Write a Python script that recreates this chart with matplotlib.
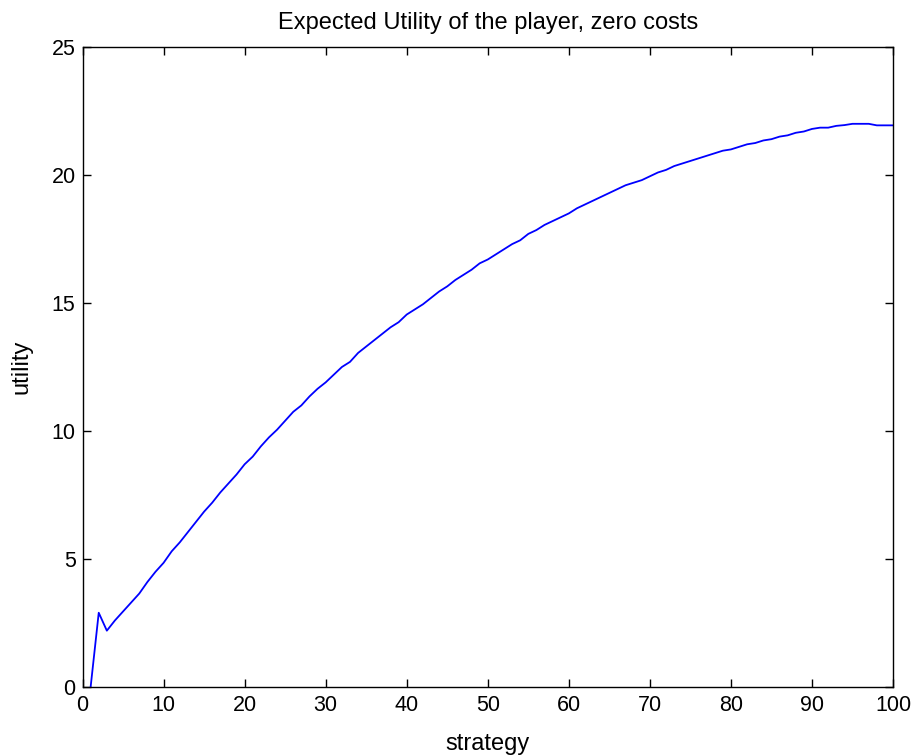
import matplotlib
matplotlib.use("Agg")
import matplotlib.pyplot as plt

# strategy index and expected utility
strategy = list(range(1, 101))
utility = [
    0.0, 2.9, 2.2, 2.6, 2.95, 3.3, 3.65, 4.1, 4.5, 4.85,
    5.3, 5.65, 6.05, 6.45, 6.85, 7.2, 7.6, 7.95, 8.3, 8.7,
    9.0, 9.4, 9.75, 10.05, 10.4, 10.75, 11.0, 11.35, 11.65, 11.9,
    12.2, 12.5, 12.7, 13.05, 13.3, 13.55, 13.8, 14.05, 14.25, 14.55,
    14.75, 14.95, 15.2, 15.45, 15.65, 15.9, 16.1, 16.3, 16.55, 16.7,
    16.9, 17.1, 17.3, 17.45, 17.7, 17.85, 18.05, 18.2, 18.35, 18.5,
    18.7, 18.85, 19.0, 19.15, 19.3, 19.45, 19.6, 19.7, 19.8, 19.95,
    20.1, 20.2, 20.35, 20.45, 20.55, 20.65, 20.75, 20.85, 20.95, 21.0,
    21.1, 21.2, 21.25, 21.35, 21.4, 21.5, 21.55, 21.65, 21.7, 21.8,
    21.85, 21.85, 21.92, 21.95, 22.0, 22.0, 22.0, 21.94, 21.94, 21.94,
]
x_ticks = list(range(0, 101, 10))
y_ticks = [0, 5, 10, 15, 20, 25]

plt.rcParams['font.family'] = ['Liberation Sans', 'DejaVu Sans']

fig = plt.figure(figsize=(9.18, 7.56), dpi=100)
ax = fig.add_axes([0.0899, 0.0913, 0.8829, 0.8465])

ax.plot(strategy, utility, color=(0, 0, 1), lw=1.3)

ax.set_xlim(0, 100)
ax.set_ylim(0, 25)
ax.set_xticks(x_ticks)
ax.set_yticks(y_ticks)
ax.tick_params(direction='in', top=True, right=True, length=6, width=1,
               labelsize=15.5, pad=5)
ax.tick_params(axis='x', pad=6)
for s in ax.spines.values():
    s.set_linewidth(1)

ax.set_xlabel('strategy', fontsize=17, labelpad=12)
ax.set_ylabel('utility', fontsize=17, labelpad=14)
ax.set_title('Expected Utility of the player, zero costs', fontsize=17, pad=13)

fig.savefig('out.png', dpi=100)
